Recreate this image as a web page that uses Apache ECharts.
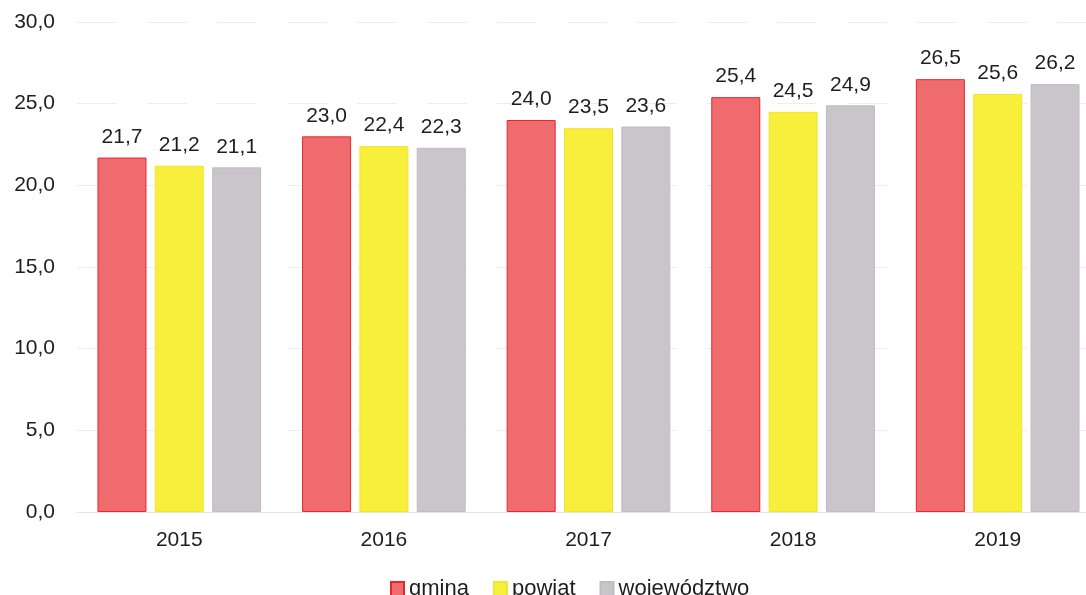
<!DOCTYPE html>
<html><head><meta charset="utf-8">
<script src="https://cdn.jsdelivr.net/npm/echarts@6/dist/echarts.min.js"></script>
<style>html,body{margin:0;padding:0;background:#fff}#c{width:1086px;height:595px}</style>
</head><body><div id="c"></div>
<script>
const categories = ['2015','2016','2017','2018','2019'];
const gmina = [21.7, 23.0, 24.0, 25.4, 26.5];
const powiat = [21.2, 22.4, 23.5, 24.5, 25.6];
const wojewodztwo = [21.1, 22.3, 23.6, 24.9, 26.2];
const seriesNames = ['gmina','powiat','województwo'];

const fmt = v => Number(v).toFixed(1).replace('.', ',');
const font = 'Liberation Sans, Arial, sans-serif';
const chart = echarts.init(document.getElementById('c'));
function mk(name, data, color, border) {
  return {
    name, type: 'bar', data, barWidth: 49, barGap: '17%',
    itemStyle: { color, borderColor: border, borderWidth: 1 },
    label: { show: true, position: 'top', distance: 10, color: '#1e1e1e', fontSize: 21, fontFamily: font,
      formatter: p => fmt(p.value) }
  };
}
chart.setOption({
  animation: false,
  backgroundColor: '#fff',
  grid: { left: 77, right: -14, top: 22, bottom: 83, outerBoundsMode: 'none', containLabel: false },
  legend: {
    top: 573, left: 385, itemWidth: 13, itemHeight: 14, itemGap: 24,
    textStyle: { fontSize: 22, color: '#1e1e1e', fontFamily: font },
    icon: 'rect', data: seriesNames
  },
  xAxis: {
    type: 'category', data: categories,
    axisLine: { show: true, lineStyle: { color: '#e6e6e6' } },
    axisTick: { show: false },
    axisLabel: { fontSize: 21, color: '#1e1e1e', fontFamily: font, margin: 18 }
  },
  yAxis: {
    type: 'value', min: 0, max: 30, interval: 5,
    axisLine: { show: false }, axisTick: { show: false },
    axisLabel: { fontSize: 21, color: '#1e1e1e', fontFamily: font, margin: 22, formatter: v => fmt(v) },
    splitLine: { lineStyle: { color: '#ededed', type: [40, 30] } }
  },
  series: [
    mk(seriesNames[0], gmina, '#ef6b6e', '#e8262d'),
    mk(seriesNames[1], powiat, '#f8ef3c', '#f0e430'),
    mk(seriesNames[2], wojewodztwo, '#c9c5cb', '#c0bcc4')
  ]
});
</script></body></html>
